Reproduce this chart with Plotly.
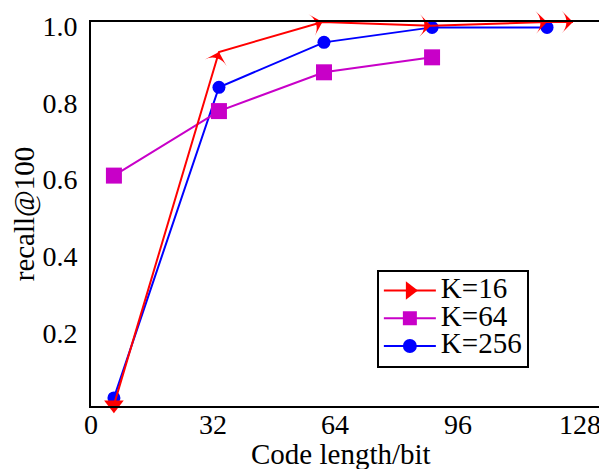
import plotly.graph_objects as go

# Data
x_k16 = [6, 33.5, 60.6, 89, 119.4, 126.2]
y_k16 = [0.003, 0.922, 1.0, 0.99, 1.0, 1.0]

x_k64 = [6, 33.5, 61, 89.3]
y_k64 = [0.60, 0.768, 0.869, 0.908]

x_k256 = [6, 33.5, 61, 89.3, 119.4]
y_k256 = [0.021, 0.83, 0.947, 0.986, 0.986]

x_ticks = [0, 32, 64, 96, 128]
x_tick_text = ["0", "32", "64", "96", "128"]
y_ticks = [0.2, 0.4, 0.6, 0.8, 1.0]
y_tick_text = ["0.2", "0.4", "0.6", "0.8", "1.0"]

FONT = "Liberation Serif"
RED = "#FF0000"
MAG = "#C800C8"
BLUE = "#0000FF"

# The page body has an 8px margin: the figure is laid out shifted by it.
OFF = 8
W, H = 607, 469
L, T, B_VIS = 91, 22, 406

fig = go.Figure()

# draw order: blue, magenta, red on top
fig.add_trace(go.Scatter(
    x=x_k256, y=y_k256, mode="lines+markers", name="K=256", showlegend=False,
    line=dict(color=BLUE, width=2),
    marker=dict(symbol="circle", size=13, color=BLUE),
    cliponaxis=False,
))
fig.add_trace(go.Scatter(
    x=x_k64, y=y_k64, mode="lines+markers", name="K=64", showlegend=False,
    line=dict(color=MAG, width=2),
    marker=dict(symbol="square", size=16, color=MAG),
    cliponaxis=False,
))
fig.add_trace(go.Scatter(
    x=x_k16, y=y_k16, mode="lines+markers", name="K=16", showlegend=False,
    line=dict(color=RED, width=2, backoff=0),
    marker=dict(symbol="arrow-wide", angleref="previous", size=16, color=RED,
                line=dict(width=0)),
    cliponaxis=False,
))
# first point of K=16 (drawn pointing down)
fig.add_trace(go.Scatter(
    x=x_k16[:1], y=y_k16[:1], mode="markers", showlegend=False,
    marker=dict(symbol="triangle-down", size=17, color=RED, line=dict(width=0)),
    cliponaxis=False,
))

# legend entries
LEG = "<span style='font-size:29px'>%s</span>"
fig.add_trace(go.Scatter(x=[None], y=[None], mode="lines+markers", name=LEG % "K=16",
                         line=dict(color=RED, width=2),
                         marker=dict(symbol="triangle-right", size=16, color=RED)))
fig.add_trace(go.Scatter(x=[None], y=[None], mode="lines+markers", name=LEG % "K=64",
                         line=dict(color=MAG, width=2),
                         marker=dict(symbol="square", size=14, color=MAG)))
fig.add_trace(go.Scatter(x=[None], y=[None], mode="lines+markers", name=LEG % "K=256",
                         line=dict(color=BLUE, width=2),
                         marker=dict(symbol="circle", size=14, color=BLUE)))

annotations = [dict(
    text=t, x=v, xref="x", y=-0.047, yref="paper", xanchor="center", yanchor="middle",
    showarrow=False, font=dict(family=FONT, size=28),
) for v, t in zip(x_ticks, x_tick_text)]
annotations.append(dict(
    text="Code length/bit", xref="paper", yref="paper",
    x=0.485, y=-0.125, xanchor="center", yanchor="middle", showarrow=False,
    font=dict(family=FONT, size=29),
))

fig.update_layout(
    width=W, height=H,
    margin=dict(l=L - OFF, r=OFF, t=T - OFF, b=H - (B_VIS - OFF), autoexpand=False),
    paper_bgcolor="white", plot_bgcolor="white",
    font=dict(family=FONT, size=28, color="black"),
    showlegend=True,
    legend=dict(
        x=0.554, y=0.355, xanchor="left", yanchor="top",
        bordercolor="black", borderwidth=2, bgcolor="white",
        font=dict(family=FONT, size=19),
        tracegroupgap=0, itemsizing="trace", itemwidth=52,
    ),
    xaxis=dict(
        range=[0, 135.1], tickvals=x_ticks, showticklabels=False,
        showgrid=False, zeroline=False, showline=True, linecolor="black", linewidth=2,
        mirror=True, ticks="", automargin=False,
    ),
    yaxis=dict(
        range=[0, 1.0], tickvals=y_ticks, ticktext=y_tick_text,
        showgrid=False, zeroline=False, showline=True, linecolor="black", linewidth=2,
        mirror=False, ticks="", ticklabelstandoff=6, automargin=False,
        ticklabeloverflow="allow", ticklabelshift=4,
        title=dict(text="recall@100", font=dict(family=FONT, size=29), standoff=0),
    ),
    annotations=annotations,
)

fig.write_html("out.html")
